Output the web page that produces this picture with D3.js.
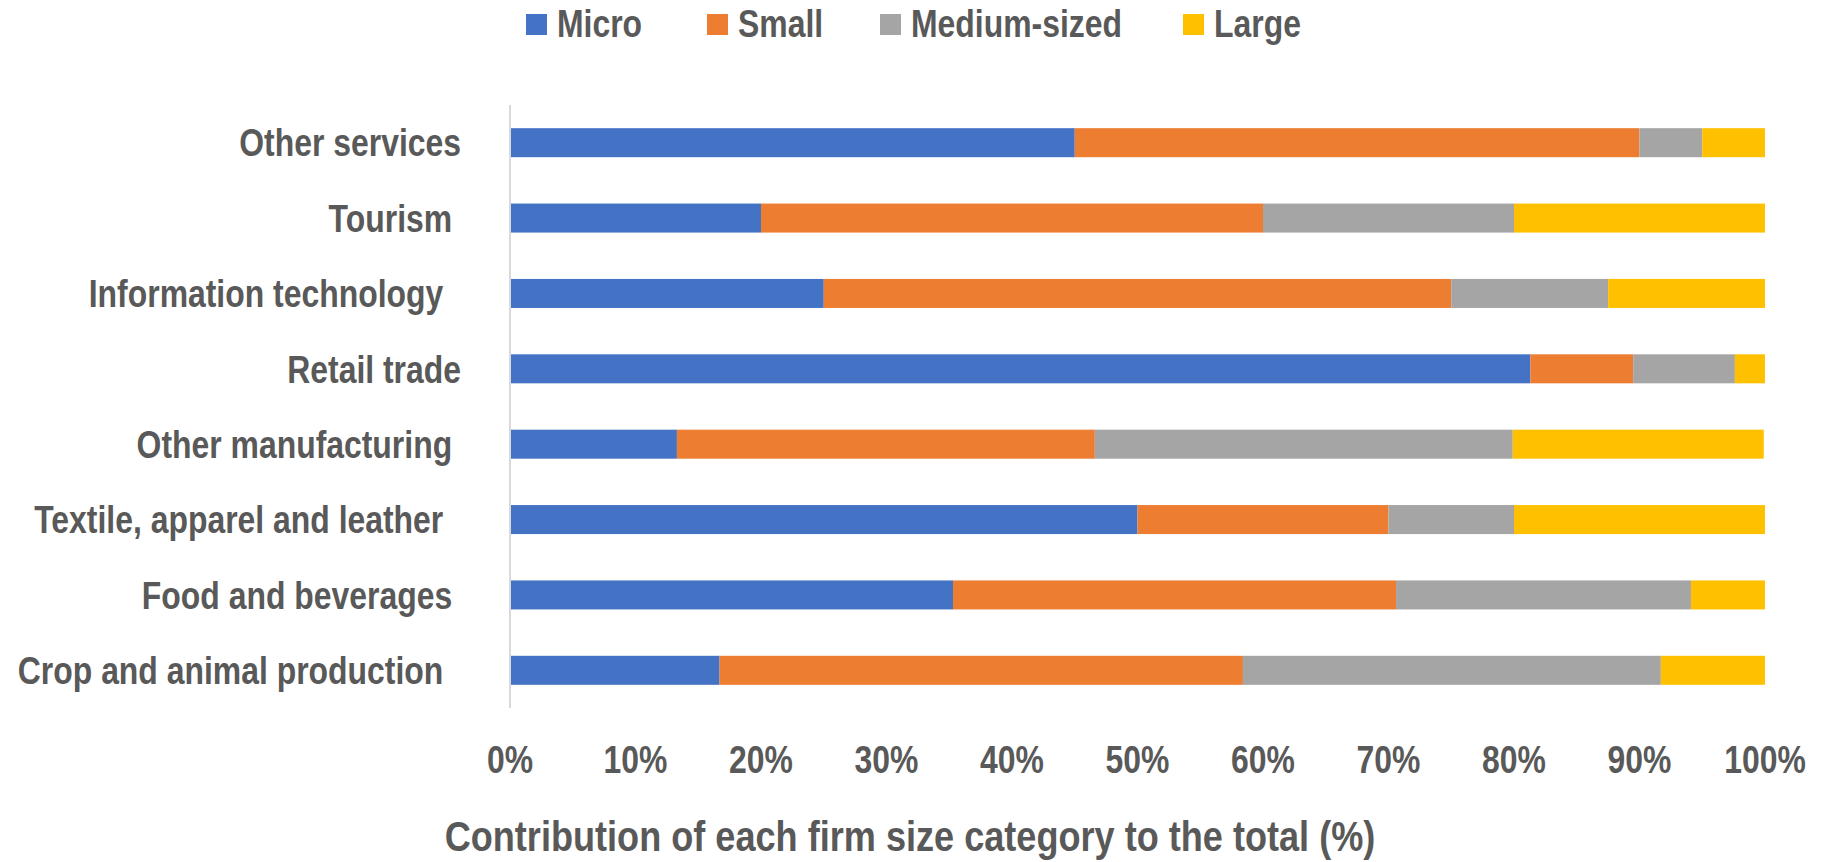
<!DOCTYPE html>
<html>
<head>
<meta charset="utf-8">
<script src="https://cdn.jsdelivr.net/npm/d3@7"></script>
<style>
  body { margin: 0; background: #fff; }
  text { font-family: "Liberation Sans", Arial, sans-serif; font-weight: bold; fill: #595959; font-size: 38px; white-space: pre; }
</style>
</head>
<body>
<svg></svg>
<script>
// categories, top to bottom (trailing spaces kept like the original labels)
const sectors = ["Other services", "Tourism ", "Information technology  ", "Retail trade",
                 "Other manufacturing ", "Textile, apparel and leather  ", "Food and beverages ", "Crop and animal production  "];
const sizeNames = ["Micro", "Small", "Medium-sized", "Large"];
const micro  = [45, 20, 25, 81.3, 13.3, 50, 35.3, 16.7];
const small  = [45, 40, 50, 8.2, 33.3, 20, 35.3, 41.7];
const medium = [5, 20, 12.5, 8.1, 33.3, 10, 23.5, 33.3];
const large  = [5, 20, 12.5, 2.4, 20, 20, 5.9, 8.3];
const ticks = [0, 10, 20, 30, 40, 50, 60, 70, 80, 90, 100];
const colors = ["#4472C4", "#ED7D31", "#A5A5A5", "#FFC000"];
const xTitle = "Contribution of each firm size category to the total (%)";

let width = 1827;
let height = 862;
// no narrow font installed, so squeeze the text horizontally
let squeeze = 0.84;

let svg = d3.select("svg")
    .attr("width", width)
    .attr("height", height);

// rows built from the arrays
let rows = sectors.map((s, i) => ({
    sector: s,
    "Micro": micro[i],
    "Small": small[i],
    "Medium-sized": medium[i],
    "Large": large[i]
}));

let stacked = d3.stack().keys(sizeNames)(rows);

let x = d3.scaleLinear().domain([0, 100]).range([510, 1765]);
let y = d3.scaleBand().domain(sectors).range([105, 708])
    .paddingInner(0.615).paddingOuter(0.3075);
let color = d3.scaleOrdinal().domain(sizeNames).range(colors);

let place = (tx, ty) => `translate(${tx},${ty}) scale(${squeeze},1)`;

// bars
svg.append("g")
    .selectAll("g")
    .data(stacked)
    .enter()
    .append("g")
    .attr("fill", d => color(d.key))
    .selectAll("rect")
    .data(d => d)
    .enter()
    .append("rect")
    .attr("x", d => x(d[0]))
    .attr("y", d => y(d.data.sector))
    .attr("width", d => x(d[1]) - x(d[0]))
    .attr("height", y.bandwidth());

// vertical axis line
svg.append("line")
    .attr("x1", x(0)).attr("x2", x(0))
    .attr("y1", 105).attr("y2", 708)
    .attr("stroke", "#d9d9d9")
    .attr("stroke-width", 2);

// category labels
svg.append("g")
    .selectAll("text")
    .data(sectors)
    .enter()
    .append("text")
    .attr("transform", d => place(461, y(d) + y.bandwidth() / 2))
    .attr("dy", "0.36em")
    .attr("text-anchor", "end")
    .text(d => d);

// x tick labels
svg.append("g")
    .selectAll("text")
    .data(ticks)
    .enter()
    .append("text")
    .attr("transform", d => place(x(d), 773))
    .attr("text-anchor", "middle")
    .text(d => d + "%");

// axis title
svg.append("text")
    .attr("transform", place(910, 851))
    .attr("text-anchor", "middle")
    .style("font-size", "43px")
    .text(xTitle);

// legend
let legendX = [526, 707, 880, 1183];
let legend = svg.append("g")
    .selectAll("g")
    .data(sizeNames)
    .enter()
    .append("g")
    .attr("transform", (d, i) => `translate(${legendX[i]},0)`);
legend.append("rect")
    .attr("x", 0).attr("y", 14)
    .attr("width", 21).attr("height", 21)
    .attr("fill", d => color(d));
legend.append("text")
    .attr("transform", place(31, 37))
    .text(d => d);
</script>
</body>
</html>
